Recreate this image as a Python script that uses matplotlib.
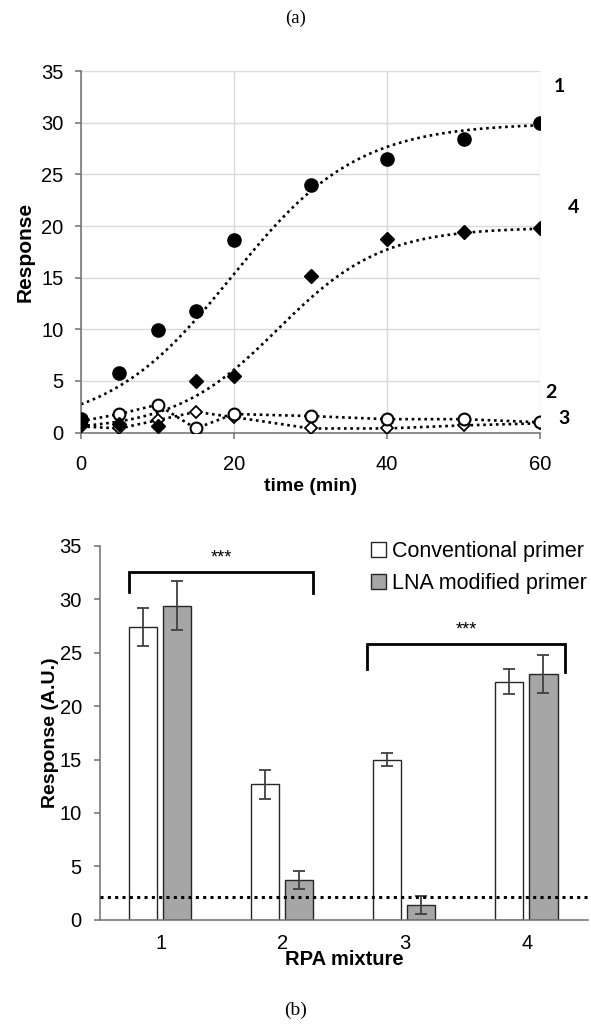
from __future__ import annotations

import numpy as np
import matplotlib
matplotlib.use("Agg")
import matplotlib.pyplot as plt
from matplotlib.patches import Patch


# ---- panel (a): response over time ----
TIME_MIN = [0, 5, 10, 15, 20, 30, 40, 50, 60]
MIX1 = [1.3, 5.8, 9.9, 11.8, 18.6, 24.0, 26.5, 28.4, 30.0]
MIX2 = [1.1, 1.8, 2.7, 0.4, 1.8, 1.6, 1.3, 1.3, 1.0]
MIX3 = [0.6, 0.4, 1.2, 2.0, 1.5, 0.4, 0.4, 0.7, 0.9]
MIX4 = [0.7, 0.8, 0.6, 5.0, 5.5, 15.2, 18.7, 19.4, 19.8]
# trend lines of mixtures 1 and 4 at the same times
TREND1 = [2.7, 4.6, 7.0, 11.2, 15.2, 23.6, 27.5, 29.2, 29.8]
TREND4 = [0.6, 1.1, 2.0, 3.6, 6.0, 13.0, 17.7, 19.3, 19.8]
SERIES_LABELS = ["1", "2", "3", "4"]
LABEL_X = [62.5, 61.4, 63.1, 64.4]
LABEL_Y = [33.5, 3.9, 1.35, 21.8]

# ---- panel (b): bar chart ----
MIXTURES = ["1", "2", "3", "4"]
CONVENTIONAL = [27.4, 12.7, 15.0, 22.3]
CONVENTIONAL_ERR = [1.75, 1.35, 0.65, 1.15]
LNA = [29.4, 3.7, 1.4, 23.0]
LNA_ERR = [2.3, 0.85, 0.85, 1.75]
THRESHOLD = 2.1
# x0, x1, top, left leg end, right leg end
BRACKETS = [(0.74, 2.25, 32.6, 30.7, 30.6), (2.69, 4.31, 25.8, 23.5, 23.2)]

SANS = ["Liberation Sans", "DejaVu Sans"]
DOTS = (0, (1.0, 1.4))


def fit_logistic(t, y):
    # y = a + b / (1 + exp(-k (t - t0))), grid over k, t0 with linear a, b
    t = np.asarray(t, float)
    y = np.asarray(y, float)
    best = None
    for k in np.linspace(0.02, 0.4, 120):
        for t0 in np.linspace(0, 60, 241):
            s = 1.0 / (1.0 + np.exp(-k * (t - t0)))
            A = np.column_stack([np.ones_like(s), s])
            coef, *_ = np.linalg.lstsq(A, y, rcond=None)
            err = np.sum((A @ coef - y) ** 2)
            if best is None or err < best[0]:
                best = (err, k, t0, coef)
    _, k, t0, (a, b) = best
    return lambda x: a + b / (1.0 + np.exp(-k * (x - t0)))


def style_axis(ax):
    for side in ("top", "right"):
        ax.spines[side].set_visible(False)
    for side in ("left", "bottom"):
        ax.spines[side].set_color("#6f6f6f")
        ax.spines[side].set_linewidth(1.1)
    ax.tick_params(colors="#6f6f6f", length=4, width=1.1, direction="out")


def label_ticks(ax, size):
    for lab in ax.get_xticklabels() + ax.get_yticklabels():
        lab.set_fontsize(size)
        lab.set_color("black")
        lab.set_family(SANS)


def draw_time_panel(ax):
    t_fine = np.linspace(0, 60, 300)
    for trend in (TREND1, TREND4):
        curve = fit_logistic(TIME_MIN, trend)
        ax.plot(t_fine, curve(t_fine), color="black", lw=1.9, ls=DOTS, zorder=2)
    ax.plot(TIME_MIN, MIX2, color="black", lw=1.9, ls=DOTS, zorder=2)
    ax.plot(TIME_MIN, MIX3, color="black", lw=1.9, ls=DOTS, zorder=2)

    ax.plot(TIME_MIN, MIX3, ls="none", marker="D", ms=6.5, mfc="white", mec="black", mew=1.3, zorder=3)
    ax.plot(TIME_MIN, MIX2, ls="none", marker="o", ms=8.5, mfc="white", mec="black", mew=1.5, zorder=3)
    ax.plot(TIME_MIN, MIX4, ls="none", marker="D", ms=7.5, mfc="black", mec="black", zorder=4)
    ax.plot(TIME_MIN, MIX1, ls="none", marker="o", ms=9.5, mfc="black", mec="black", zorder=4)

    ax.set_xlim(0, 60)
    ax.set_ylim(0, 35)
    ax.set_xticks([0, 20, 40, 60])
    ax.set_yticks(range(0, 36, 5))
    ax.grid(True, color="#d9d9d9", lw=1.0)
    ax.set_axisbelow(True)
    style_axis(ax)
    ax.tick_params(axis="x", pad=12)
    ax.tick_params(axis="y", pad=8.5)
    label_ticks(ax, 14.5)
    ax.set_xlabel("time (min)", fontsize=14, fontweight="bold", family=SANS, labelpad=3)
    ax.set_ylabel("Response", fontsize=15, fontweight="bold", family=SANS, labelpad=5)

    for label, x, y in zip(SERIES_LABELS, LABEL_X, LABEL_Y):
        ax.text(x, y, label, fontsize=14, fontweight="bold", family=["Lato", "DejaVu Sans"],
                ha="center", va="center", clip_on=False)


def draw_bar_panel(ax):
    x = np.arange(1, len(MIXTURES) + 1)
    width = 0.23
    err_kw = dict(ecolor="#404040", elinewidth=1.3, capsize=4.5, capthick=1.3)
    ax.bar(x - 0.145, CONVENTIONAL, width, yerr=CONVENTIONAL_ERR, color="white",
           edgecolor="#262626", linewidth=1.0, error_kw=err_kw, zorder=2)
    ax.bar(x + 0.135, LNA, width, yerr=LNA_ERR, color="#a6a6a6",
           edgecolor="#262626", linewidth=1.0, error_kw=err_kw, zorder=2)
    ax.axhline(THRESHOLD, color="black", lw=2.2, ls=DOTS, zorder=3)

    for x0, x1, top, leg0, leg1 in BRACKETS:
        ax.plot([x0, x0, x1, x1], [leg0, top, top, leg1], color="black", lw=2.0,
                solid_joinstyle="miter", zorder=3)
        ax.text((x0 + x1) / 2, top + 0.5, "***", fontsize=13, family=SANS,
                ha="center", va="bottom")

    ax.set_xlim(0.5, 4.5)
    ax.set_ylim(0, 35)
    ax.set_xticks(x)
    ax.set_xticklabels(MIXTURES)
    ax.set_yticks(range(0, 36, 5))
    style_axis(ax)
    ax.tick_params(axis="x", length=0, pad=10)
    ax.tick_params(axis="y", pad=9)
    label_ticks(ax, 14.5)
    ax.set_xlabel("RPA mixture", fontsize=14.5, fontweight="bold", family=SANS, labelpad=-2)
    ax.set_ylabel("Response (A.U.)", fontsize=14, fontweight="bold", family=SANS, labelpad=0)

    handles = [
        Patch(facecolor="white", edgecolor="#262626", label="Conventional primer"),
        Patch(facecolor="#a6a6a6", edgecolor="#262626", label="LNA modified primer"),
    ]
    ax.legend(handles=handles, loc="upper right", bbox_to_anchor=(1.015, 1.035), frameon=False,
              prop={"family": SANS, "size": 15.5}, handlelength=0.7, handleheight=0.7,
              handletextpad=0.25, labelspacing=0.5, borderaxespad=0.0)


def main():
    fig = plt.figure(figsize=(5.91, 10.30), dpi=100)
    fig.text(0.5, 0.982, "(a)", fontsize=13.5, family=["Liberation Serif", "DejaVu Serif"],
             ha="center", va="center")
    fig.text(0.5, 0.019, "(b)", fontsize=14, family=["Liberation Serif", "DejaVu Serif"],
             ha="center", va="center")

    ax_top = fig.add_axes([0.137, 0.580, 0.777, 0.351])
    draw_time_panel(ax_top)

    ax_bot = fig.add_axes([0.169, 0.107, 0.826, 0.363])
    draw_bar_panel(ax_bot)

    fig.savefig("out.png", dpi=100)
    plt.close(fig)


if __name__ == "__main__":
    main()
